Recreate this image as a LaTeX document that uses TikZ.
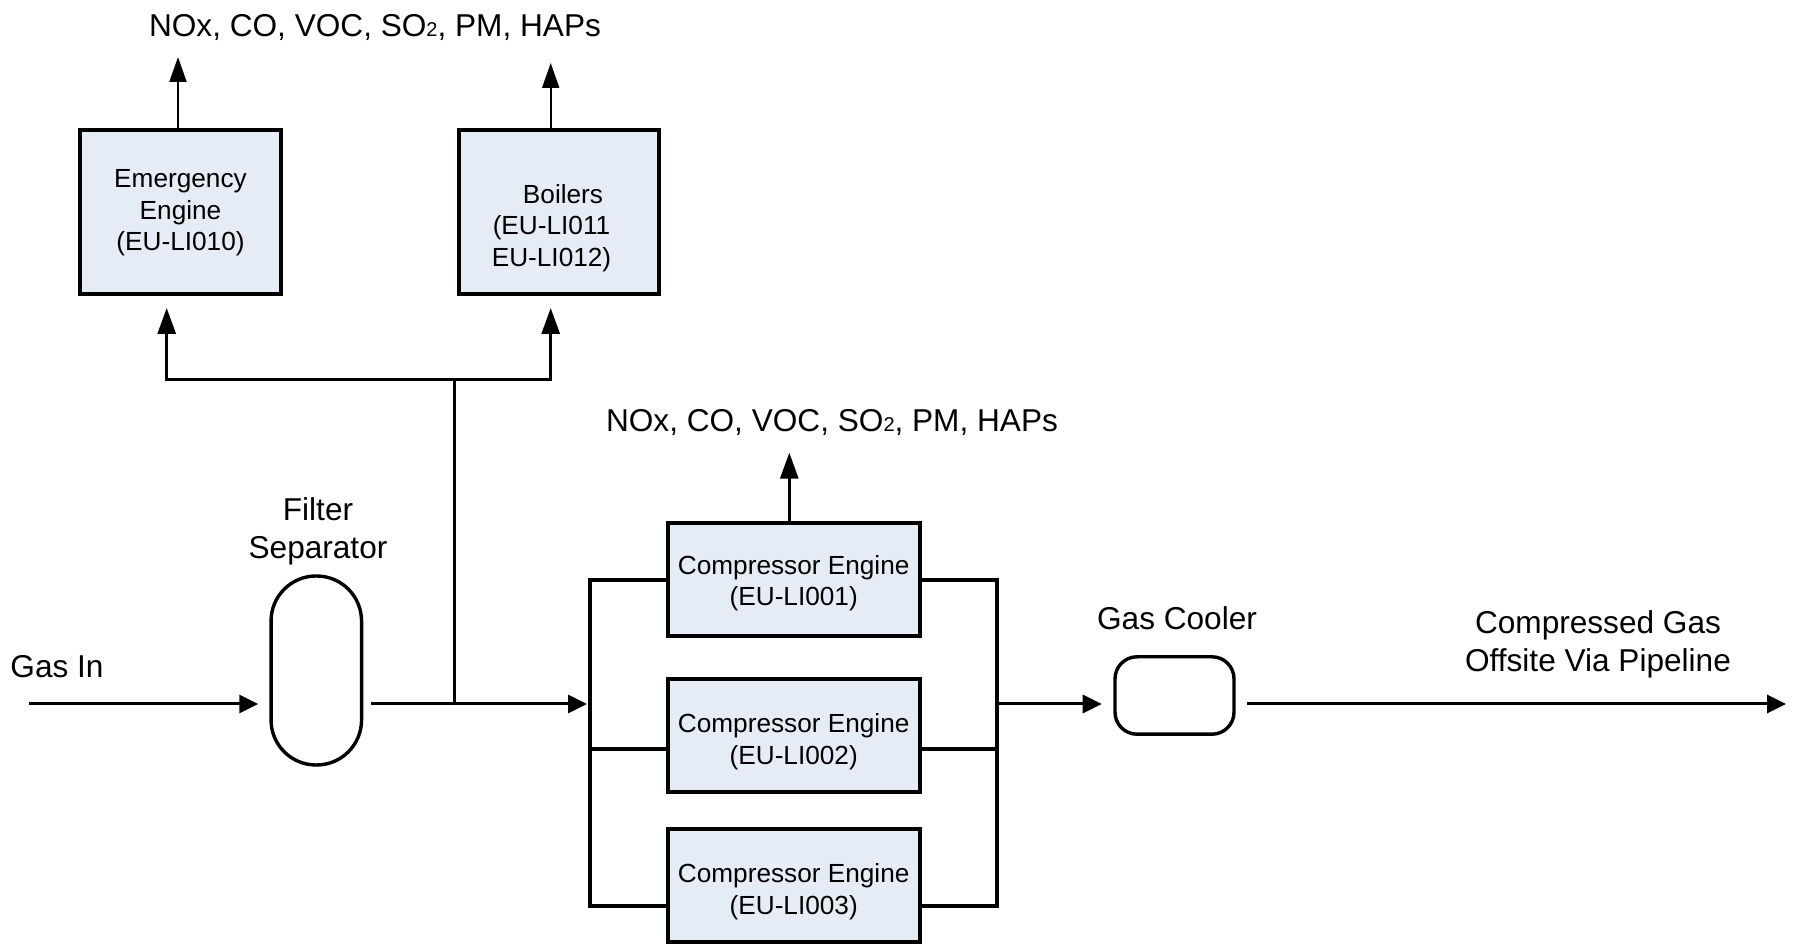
\documentclass[tikz,border=0pt]{standalone}
\usepackage{fontspec}
\setmainfont{Liberation Sans}
\usetikzlibrary{arrows.meta}
\definecolor{boxfill}{HTML}{E6ECF6}
\newcommand{\subtwo}{{\fontsize{10pt}{10pt}\selectfont 2}}

\begin{document}
\begin{tikzpicture}[x=0.5pt,y=-0.5pt,
  unitbox/.style={draw=black, line width=2pt, fill=boxfill, rectangle, inner sep=0pt},
  vessel/.style={draw=black, line width=1.7pt, rectangle, inner sep=0pt},
  boxtext/.style={align=center, inner sep=0pt, font=\fontsize{13.1pt}{15.75pt}\selectfont},
  captext/.style={align=center, inner sep=0pt, font=\fontsize{15.8pt}{19pt}\selectfont},
  flow/.style={line width=1.5pt},
  header/.style={line width=1.8pt},
  arrV/.style={flow, -{Triangle[length=13pt,width=9pt]}},
  arrH/.style={flow, -{Triangle[length=9.5pt,width=9pt]}},
  thinV/.style={line width=1pt, -{Triangle[length=12.5pt,width=8.5pt]}},
]
\useasboundingbox (0,0) rectangle (1800,945);

% ---- fuel-gas users (upper row) ----
\node[unitbox, minimum width=100.5pt, minimum height=82pt] (ee) at (180.5,212) {};
\node[boxtext] (eetxt) at (180.5,212.8) {Emergency\\Engine\\(EU-LI010)};
\node[unitbox, minimum width=100pt, minimum height=82pt] (boil) at (558.7,212) {};
\node[boxtext] (boiltxt) at (551.5,227.8) {\hspace*{11.5pt}Boilers\\(EU-LI011\\EU-LI012)};

% ---- compressor engines ----
\node[unitbox, minimum width=126pt, minimum height=56.5pt] (ce1) at (793.7,579.7) {};
\node[boxtext] (ce1txt) at (793.7,583) {Compressor Engine\\(EU-LI001)};
\node[unitbox, minimum width=126pt, minimum height=56.5pt] (ce2) at (793.7,735.8) {};
\node[boxtext] (ce2txt) at (793.7,741.8) {Compressor Engine\\(EU-LI002)};
\node[unitbox, minimum width=126pt, minimum height=56.5pt] (ce3) at (793.7,885.6) {};
\node[boxtext] (ce3txt) at (793.7,891.8) {Compressor Engine\\(EU-LI003)};

% ---- vessels ----
\node[vessel, rounded corners=22.5pt, minimum width=45.25pt, minimum height=94.5pt] (sep) at (316.3,670.5) {};
\node[vessel, rounded corners=11pt, minimum width=59.5pt, minimum height=38.7pt] (cool) at (1174.5,695.5) {};

% ---- captions ----
\node[captext, anchor=base] (gasin) at (57,677.3) {Gas In};
\node[captext] (septxt) at (318,531.2) {Filter\\Separator};
\node[captext, anchor=base] (cooltxt) at (1177,629.3) {Gas Cooler};
\node[captext] (outtxt) at (1598,644.8) {Compressed Gas\\Offsite Via Pipeline};
\node[captext, anchor=base] (em1) at (375,37) {NOx, CO, VOC, SO\subtwo, PM, HAPs};
\node[captext, anchor=base] (em2) at (832,431.7) {NOx, CO, VOC, SO\subtwo, PM, HAPs};

% ---- routing points ----
\coordinate (gin) at (29,704);
\coordinate (jm) at (454.3,704);
\coordinate (jn) at (454.3,379.3);
\coordinate (lb) at (166.7,379.3);
\coordinate (rb) at (550.7,379.3);
\coordinate (eetop) at (178,57);
\coordinate (boiltop) at (550.7,63);
\coordinate (cetop) at (789.3,452.7);
\coordinate (bl1) at (590,580);
\coordinate (bl2) at (590,749.3);
\coordinate (bl3) at (590,906);
\coordinate (blin) at (590,704);
\coordinate (br1) at (996.7,580);
\coordinate (br2) at (996.7,749.3);
\coordinate (br3) at (996.7,906);
\coordinate (brout) at (996.7,704);
\coordinate (gout) at (1786,704);

% ---- main gas line ----
\draw[arrH, shorten >=5.5pt] (gin) -- (sep.west |- gin);
\draw[arrH, shorten <=3.7pt, shorten >=1.5pt] (sep.east |- gin) -- (blin);

% ---- fuel gas branch ----
\draw[flow] (jm) -- (jn);
\draw[arrV, shorten >=6pt] (rb) -- (lb) -- (lb |- ee.south);
\draw[arrV, shorten >=6pt] (lb) -- (rb) -- (rb |- boil.south);

% ---- emissions ----
\draw[thinV] (ee.north -| eetop) -- (eetop);
\draw[thinV] (boil.north -| boiltop) -- (boiltop);
\draw[arrV] (ce1.north -| cetop) -- (cetop);

% ---- compressor headers ----
\draw[header] (ce1.west |- bl1) -- (bl1) -- (bl3) -- (ce3.west |- bl3);
\draw[header] (bl2) -- (ce2.west |- bl2);
\draw[header] (ce1.east |- br1) -- (br1) -- (br3) -- (ce3.east |- br3);
\draw[header] (br2) -- (ce2.east |- br2);

% ---- discharge ----
\draw[arrH, shorten >=5.8pt] (brout) -- (cool.west |- brout);
\draw[arrH, shorten <=5.5pt] (cool.east |- brout) -- (gout);
\end{tikzpicture}
\end{document}
